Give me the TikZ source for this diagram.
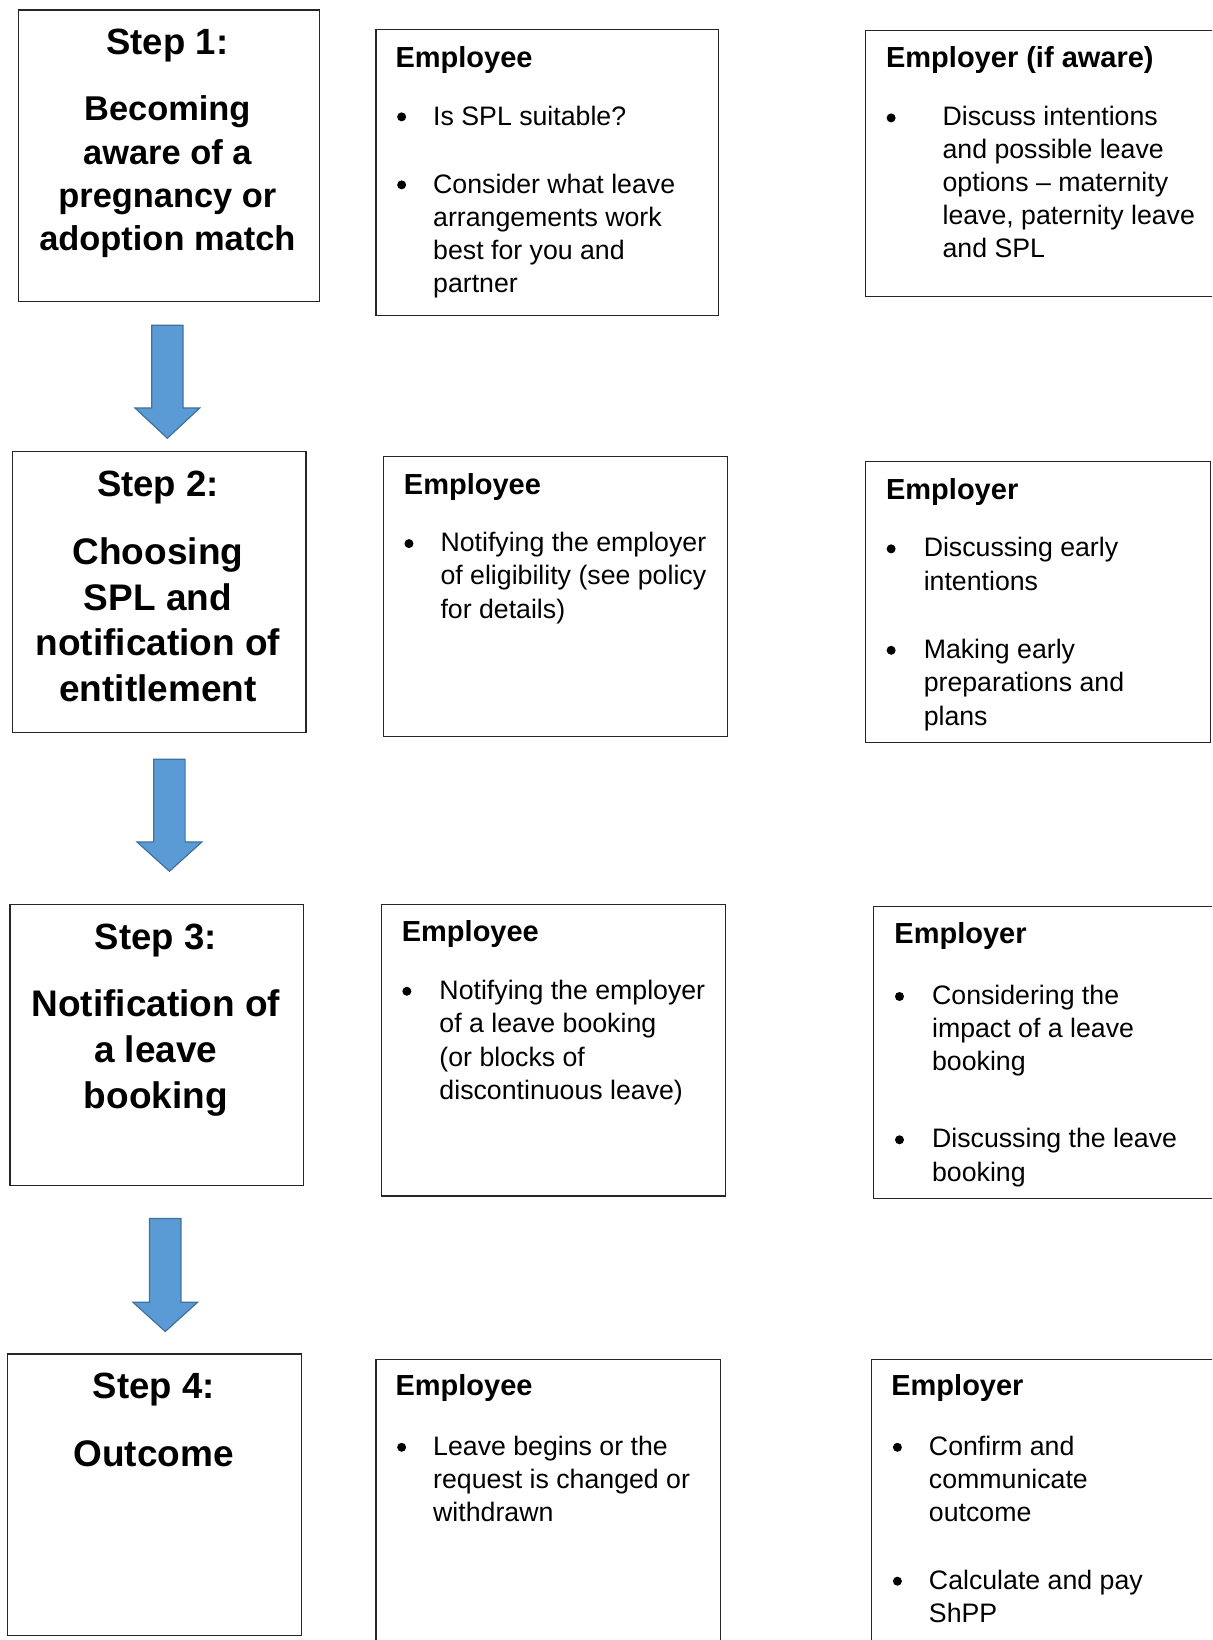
\documentclass[tikz,border=0pt]{standalone}
\usepackage{fontspec}
\setmainfont{Liberation Sans}
\definecolor{arrfill}{HTML}{5B9BD5}
\definecolor{arredge}{HTML}{41719C}
\begin{document}
\begin{tikzpicture}[x=1.0457pt, y=-1.0457pt,
  box/.style={draw=black!85, line width=1.1pt, inner sep=0pt, anchor=north west},
  blockarrow/.style={fill=arrfill, draw=arredge, line width=1.2pt, line join=miter},
  head/.style={font=\fontsize{29}{33}\selectfont\bfseries, anchor=mid west, inner sep=0pt},
  body/.style={font=\fontsize{26.7}{33}\selectfont, anchor=mid west, inner sep=0pt},
  bul/.style={circle, fill=black, inner sep=0pt, minimum size=9pt, yshift=5.5pt},
  steptitle/.style={font=\fontsize{36.5}{44}\selectfont\bfseries, anchor=mid, inner sep=0pt},
  stepone/.style={font=\fontsize{34.4}{43}\selectfont\bfseries, anchor=mid, inner sep=0pt},
  stepbody/.style={font=\fontsize{37}{46}\selectfont\bfseries, anchor=mid, inner sep=0pt}]
\clip (0,0) rectangle (1159,1568);
\fill[white] (0,0) rectangle (1159,1568);

% ---------- step boxes ----------
\node[box, minimum width=288*1.0457pt, minimum height=279*1.0457pt] (s1) at (17,9) {};
\node[box, minimum width=281*1.0457pt, minimum height=269*1.0457pt] (s2) at (11,431) {};
\node[box, minimum width=281*1.0457pt, minimum height=269*1.0457pt] (s3) at (9,864) {};
\node[box, minimum width=281*1.0457pt, minimum height=269*1.0457pt] (s4) at (7,1294) {};

% ---------- employee boxes ----------
\node[box, minimum width=327*1.0457pt, minimum height=273*1.0457pt] (e1) at (359,28) {};
\node[box, minimum width=329*1.0457pt, minimum height=268*1.0457pt] (e2) at (366,436) {};
\node[box, minimum width=329*1.0457pt, minimum height=279*1.0457pt] (e3) at (364,864) {};
\node[box, minimum width=329*1.0457pt, minimum height=300*1.0457pt] (e4) at (359,1299) {};

% ---------- employer boxes ----------
\node[box, minimum width=360*1.0457pt, minimum height=254*1.0457pt] (r1) at (827,29) {};
\node[box, minimum width=330*1.0457pt, minimum height=268*1.0457pt] (r2) at (827,441) {};
\node[box, minimum width=360*1.0457pt, minimum height=279*1.0457pt] (r3) at (835,866) {};
\node[box, minimum width=360*1.0457pt, minimum height=300*1.0457pt] (r4) at (833,1299) {};

% ---------- block arrows ----------
\filldraw[blockarrow] (145,311) -- (175,311) -- (175,390) -- (191,390) -- (160,419) -- (129,390) -- (145,390) -- cycle;
\filldraw[blockarrow] (147,726) -- (177,726) -- (177,805) -- (193,805) -- (162,833) -- (131,805) -- (147,805) -- cycle;
\filldraw[blockarrow] (143,1165) -- (173,1165) -- (173,1245) -- (189,1245) -- (158,1273) -- (127,1245) -- (143,1245) -- cycle;

% ---------- step texts ----------
\node[steptitle] (s1t) at (160,50) {Step 1:};
\foreach \t [count=\i] in {Becoming, aware of a, pregnancy or, adoption match}
  \node[stepone] (s1b\i) at (160,{113+(\i-1)*41.3}) {\t};
\node[steptitle] (s2t) at (151,472) {Step 2:};
\foreach \t [count=\i] in {Choosing, SPL and, notification of, entitlement}
  \node[stepbody] (s2b\i) at (151,{537+(\i-1)*43.7}) {\t};
\node[steptitle] (s3t) at (149,905) {Step 3:};
\foreach \t [count=\i] in {Notification of, a leave, booking}
  \node[stepbody] (s3b\i) at (149,{969+(\i-1)*44}) {\t};
\node[steptitle] (s4t) at (147,1335) {Step 4:};
\node[stepbody] (s4b) at (147,1400) {Outcome};

% ---------- row 1 ----------
\node[head] (e1h) at (378,62) {Employee};
\node[bul] (e1p1) at (384,117) {};
\node[body] (e1a) at (414,117) {Is SPL suitable?};
\node[bul] (e1p2) at (384,182) {};
\foreach \t [count=\i] in {Consider what leave, arrangements work, best for you and, partner}
  \node[body] (e1b\i) at (414,{182+(\i-1)*31.7}) {\t};

\node[head] (r1h) at (847,62) {Employer (if aware)};
\node[bul] (r1p1) at (852,118) {};
\foreach \t [count=\i] in {Discuss intentions, and possible leave, options – maternity, {leave, paternity leave}, and SPL}
  \node[body] (r1a\i) at (901,{117+(\i-1)*31.7}) {\t};

% ---------- row 2 ----------
\node[head] (e2h) at (386,470) {Employee};
\node[bul] (e2p1) at (391,525) {};
\foreach \t [count=\i] in {Notifying the employer, {of eligibility (see policy}, {for details)}}
  \node[body] (e2a\i) at (421,{525+(\i-1)*31.7}) {\t};

\node[head] (r2h) at (847,475) {Employer};
\node[bul] (r2p1) at (852,530) {};
\foreach \t [count=\i] in {Discussing early, intentions}
  \node[body] (r2a\i) at (883,{530+(\i-1)*32}) {\t};
\node[bul] (r2p2) at (852,627) {};
\foreach \t [count=\i] in {Making early, preparations and, plans}
  \node[body] (r2b\i) at (883,{627+(\i-1)*32}) {\t};

% ---------- row 3 ----------
\node[head] (e3h) at (384,898) {Employee};
\node[bul] (e3p1) at (389,953) {};
\foreach \t [count=\i] in {Notifying the employer, of a leave booking, {(or blocks of}, {discontinuous leave)}}
  \node[body] (e3a\i) at (420,{953+(\i-1)*32}) {\t};

\node[head] (r3h) at (855,900) {Employer};
\node[bul] (r3p1) at (860,958) {};
\foreach \t [count=\i] in {Considering the, impact of a leave, booking}
  \node[body] (r3a\i) at (891,{958+(\i-1)*31.7}) {\t};
\node[bul] (r3p2) at (860,1095) {};
\foreach \t [count=\i] in {Discussing the leave, booking}
  \node[body] (r3b\i) at (891,{1095+(\i-1)*31.7}) {\t};

% ---------- row 4 ----------
\node[head] (e4h) at (378,1332) {Employee};
\node[bul] (e4p1) at (384,1389) {};
\foreach \t [count=\i] in {Leave begins or the, request is changed or, withdrawn}
  \node[body] (e4a\i) at (414,{1389+(\i-1)*31.7}) {\t};

\node[head] (r4h) at (852,1332) {Employer};
\node[bul] (r4p1) at (858,1389) {};
\foreach \t [count=\i] in {Confirm and, communicate, outcome}
  \node[body] (r4a\i) at (888,{1389+(\i-1)*31.7}) {\t};
\node[bul] (r4p2) at (858,1517) {};
\foreach \t [count=\i] in {Calculate and pay, ShPP}
  \node[body] (r4b\i) at (888,{1517+(\i-1)*31.7}) {\t};
\end{tikzpicture}
\end{document}
